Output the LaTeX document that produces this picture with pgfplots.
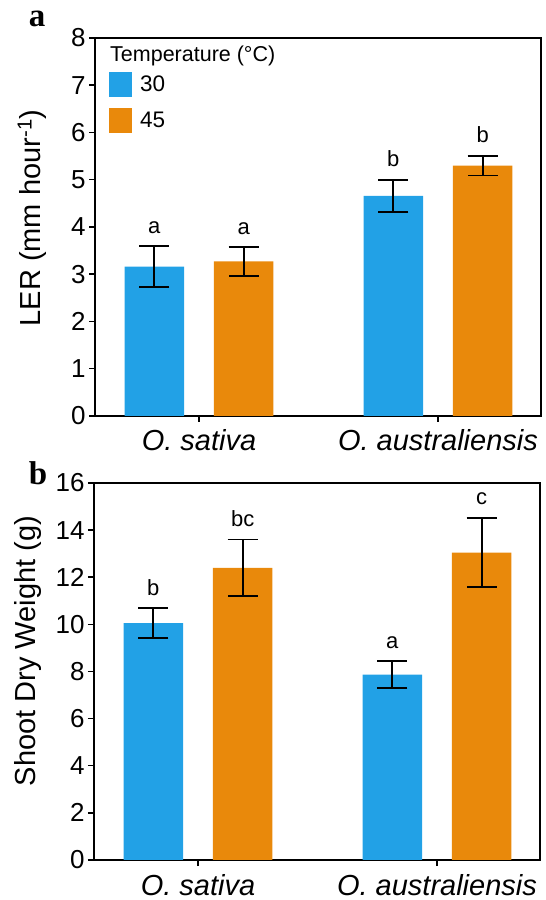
\documentclass[border=0pt]{standalone}
\usepackage{pgfplots}
\pgfplotsset{compat=1.18}
\usepackage{fontspec}
\setmainfont{Liberation Sans}
\newfontfamily\serifbold{Liberation Serif}
\definecolor{cblue}{RGB}{34,161,230}
\definecolor{corange}{RGB}{233,137,11}

\pgfplotstableread{
x y e
-0.187 3.16 0.43
0.813 4.66 0.34
}\aBlue
\pgfplotstableread{
x y e
0.187 3.27 0.30
1.187 5.30 0.21
}\aOrange
\pgfplotstableread{
x y l
-0.187 3.59 a
0.187 3.57 a
0.813 5.00 b
1.187 5.51 b
}\aLetters
\pgfplotstableread{
x y e
-0.187 10.05 0.63
0.813 7.87 0.56
}\bBlue
\pgfplotstableread{
x y e
0.187 12.40 1.20
1.187 13.05 1.48
}\bOrange
\pgfplotstableread{
x y l
-0.187 10.68 b
0.187 13.60 bc
0.813 8.43 a
1.187 14.53 c
}\bLetters

\pgfplotsset{
  mybase/.style={
    scale only axis, width=446pt,
    axis line style={line width=1.5pt},
    xmin=-0.435, xmax=1.431,
    xtick={0,1},
    xticklabels={\textit{O. sativa},\textit{O. australiensis}},
    tick style={line width=1.5pt, black},
    major tick length=6pt,
    xtick pos=bottom, ytick pos=left,
    tick align=outside,
    /pgf/number format/assume math mode=true,
    yticklabel style={font=\fontsize{26}{30}\selectfont},
    xticklabel style={font=\fontsize{29}{33}\selectfont, anchor=base, yshift=-29pt},
    ylabel style={font=\fontsize{29}{33}\selectfont, anchor=center},
    legend image code/.code={\fill[##1] (0pt,-12.5pt) rectangle (23pt,12.5pt);},
  },
  mybar/.style={ybar, bar width=0.249, bar shift=0pt, draw=none,
    error bars/y dir=both, error bars/y explicit,
    error bars/error mark=|,
    error bars/error bar style={line width=1.8pt, black},
    error bars/error mark options={line width=1.8pt, black, mark size=15pt}},
  myletters/.style={only marks, mark=*, mark size=0.01pt,
    mark options={draw=none, fill=none}, forget plot,
    nodes near coords, point meta=explicit symbolic,
    every node near coord/.append style={font=\fontsize{22}{26}\selectfont,
      anchor=base, inner sep=0pt, yshift=13pt, black}},
}

\begin{document}
\begin{tikzpicture}
\useasboundingbox (0,0) rectangle (546pt,900pt);
% panel a
\begin{axis}[mybase, height=378pt, at={(95pt,484pt)}, anchor=south west,
  ymin=0, ymax=8, ytick={0,1,...,8},
  ylabel={LER (mm hour\textsuperscript{-1})},
  ylabel style={at={(axis description cs:-0.141,0.524)}},
  legend style={at={(rel axis cs:0.0314,0.910)}, anchor=north west,
    draw=none, fill=none, inner sep=0pt, nodes={inner sep=0pt},
    font=\fontsize{22.5}{26}\selectfont, row sep=11pt, column sep=8pt},
  legend cell align=left]
\addplot[mybar, fill=cblue] table[x=x, y=y, y error=e] {\aBlue};
\addplot[mybar, fill=corange] table[x=x, y=y, y error=e] {\aOrange};
\addplot[myletters] table[x=x, y=y, meta=l] {\aLetters};
\legend{30,45}
\node[anchor=base west, inner sep=0pt, font=\fontsize{21.5}{25}\selectfont]
  at (rel axis cs:0.0336,0.939) {Temperature (°C)};
\end{axis}
% panel b
\begin{axis}[mybase, height=377pt, at={(94pt,40pt)}, anchor=south west,
  ymin=0, ymax=16, ytick={0,2,...,16},
  ylabel={Shoot Dry Weight (g)},
  ylabel style={at={(axis description cs:-0.148,0.554)}}]
\addplot[mybar, fill=cblue] table[x=x, y=y, y error=e] {\bBlue};
\addplot[mybar, fill=corange] table[x=x, y=y, y error=e] {\bOrange};
\addplot[myletters] table[x=x, y=y, meta=l] {\bLetters};
\end{axis}
\node[anchor=base, inner sep=0pt, font=\serifbold\bfseries\fontsize{33}{36}\selectfont] at (37pt,873pt) {a};
\node[anchor=base, inner sep=0pt, font=\serifbold\bfseries\fontsize{33}{36}\selectfont] at (38pt,415pt) {b};
\end{tikzpicture}
\end{document}
